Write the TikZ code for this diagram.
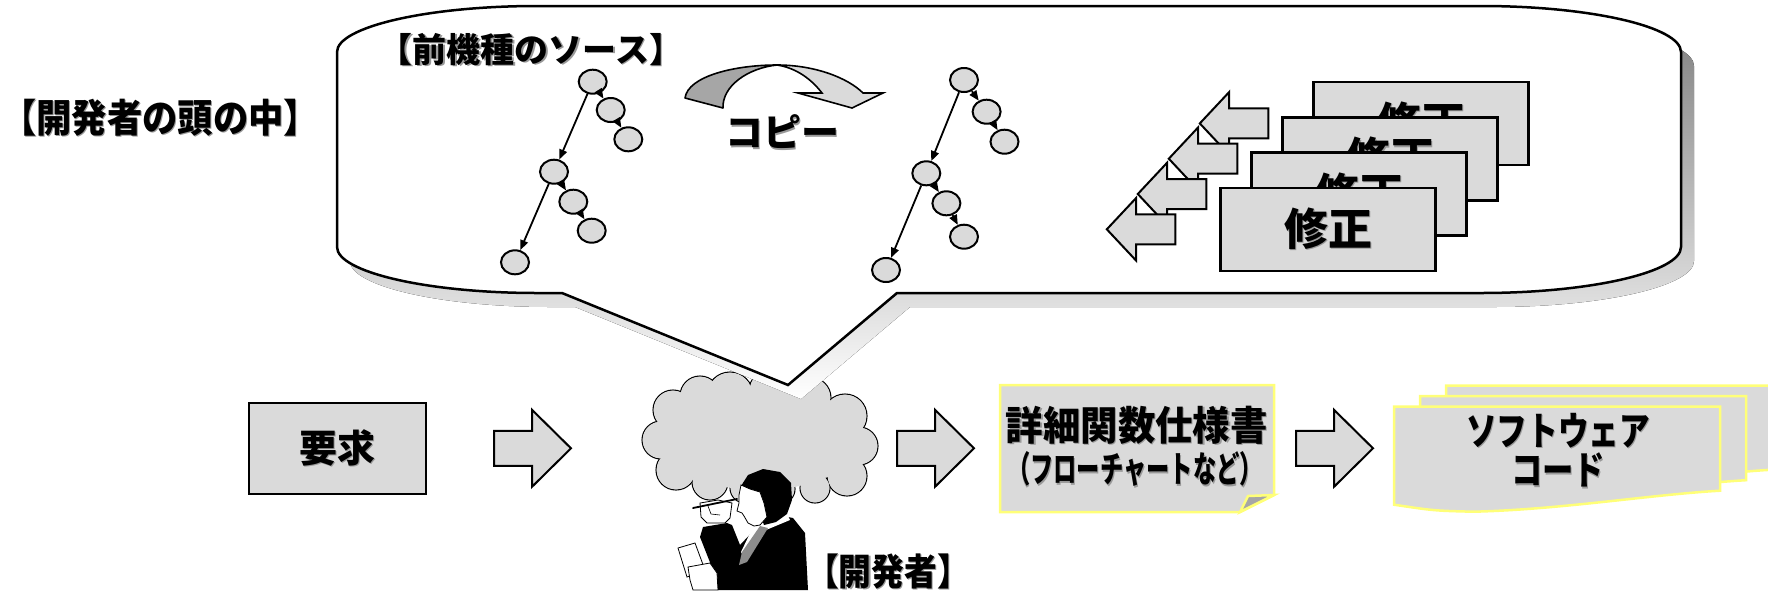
\documentclass[tikz,border=0pt]{standalone}
\usepackage{fontspec}
\usepackage{graphicx}
\usetikzlibrary{shapes.geometric,arrows.meta}
\newfontfamily\jp{Noto Sans CJK JP}

\definecolor{fillgray}{gray}{0.855}
\definecolor{shade}{gray}{0.8}
\definecolor{darkshade}{gray}{0.65}
\definecolor{edgeyellow}{RGB}{255,255,120}

% text with a soft drop shadow, set at advance width #1 and size #2
\newcommand\shtxt[1]{\makebox[0pt][l]{\kern1.4pt\raisebox{-1.4pt}{\color{black!40}#1}}#1}
\newcommand\jtxt[3]{{\fontsize{#2pt}{#2pt}\selectfont\resizebox{#1pt}{\height}{\shtxt{#3}}}}

\tikzset{
  jtext/.style={inner sep=0pt, font=\jp\bfseries},
  graybox/.style={draw=black, line width=2.5pt, fill=fillgray, inner sep=0pt},
  fixbox/.style={graybox, minimum width=215pt, minimum height=83pt, font=\jp\bfseries},
  treenode/.style={ellipse, draw=black, line width=2pt, fill=fillgray,
    minimum width=28pt, minimum height=24pt, inner sep=0pt},
  treeedge/.style={line width=1.8pt, -{Triangle[length=10pt,width=8pt]}},
  blockarrow/.style={draw=black, line width=2pt, fill=fillgray, line join=miter},
  yellowedge/.style={draw=edgeyellow, line width=2.5pt, fill=fillgray, line join=miter},
  figline/.style={draw=black, line width=0.8pt, fill=white},
  pics/rblock/.style={code={
    \draw[blockarrow] (0,0) -- (-39,-38.5) -- (-39,-17.5) -- (-77,-17.5)
      -- (-77,17.5) -- (-39,17.5) -- (-39,38.5) -- cycle;}},
  pics/lblock/.style={code={
    \draw[blockarrow] (0,0) -- (29.4,-31.4) -- (29.4,-15) -- (68.5,-15)
      -- (68.5,15) -- (29.4,15) -- (29.4,31.4) -- cycle;}},
  pics/docsheet/.style={code={
    \draw[yellowedge] (0,0) -- (326,0) -- (326,84)
      .. controls (256,88) and (166,103) .. (79,105)
      .. controls (40,104) .. (0,98) -- cycle;}},
}

% outline of the thought bubble
\def\bubblepath{(337,247) -- (337,52) .. controls (337,27) and (427,6) .. (537,6)
  -- (1481,6) .. controls (1591,6) and (1681,27) .. (1681,52) -- (1681,247)
  .. controls (1681,272) and (1591,293) .. (1481,293) -- (897,293) -- (788,385)
  -- (562,293) -- (537,293) .. controls (427,293) and (337,272) .. (337,247) -- cycle}

% puffs of the thought cloud: x/y/radius
\def\puffs{730/395/23, 771/391/22, 810/398/21, 845/416/22, 859/446/19, 847/476/20,
  815/488/15, 780/489/15, 745/488/15, 710/482/18, 676/470/20, 661/440/19,
  673/410/20, 700/396/20}

\begin{document}
\begin{tikzpicture}[x=1pt, y=-1pt]
\useasboundingbox (0,0) rectangle (1768,590);
\fill[white] (0,0) rectangle (1768,590);

% developer's thought cloud
\foreach \cx/\cy/\r in \puffs
  \filldraw[fill=fillgray, draw=black, line width=1.1pt] (\cx,\cy) circle[radius=\r];
\foreach \cx/\cy/\r in \puffs
  \fill[fillgray] (\cx,\cy) circle[radius=\r-0.7];
\node[ellipse, fill=fillgray, minimum width=200pt, minimum height=100pt, inner sep=0pt]
  (thought) at (760,440) {};

% thought bubble with its shadow
\begin{scope}[shift={(13,14)}]
  \fill[shade] \bubblepath;
\end{scope}
\draw[line width=2.5pt, fill=white, line join=miter] \bubblepath;

% bubble title
\node[jtext] (headlabel) at (160,118.3) {\jtxt{318}{39}{【開発者の頭の中】}};
\node[jtext] (srclabel) at (531,50) {\jtxt{304}{34}{【前機種のソース】}};

% source tree of the previous model
\node[treenode] (L1) at (592.7,81.7) {};
\node[treenode] (L2) at (610.7,110) {};
\node[treenode] (L3) at (628.3,139.3) {};
\node[treenode] (L4) at (554,171.7) {};
\node[treenode] (L5) at (573.3,201.7) {};
\node[treenode] (L6) at (591.7,230.7) {};
\node[treenode] (L7) at (515,262.3) {};
\draw[treeedge] (L1) -- (L2);
\draw[treeedge] (L2) -- (L3);
\draw[treeedge] (L1) -- (L4);
\draw[treeedge] (L4) -- (L5);
\draw[treeedge] (L5) -- (L6);
\draw[treeedge] (L4) -- (L7);

% copied tree
\node[treenode] (R1) at (964,80) {};
\node[treenode] (R2) at (986.6,111.7) {};
\node[treenode] (R3) at (1004.5,141.7) {};
\node[treenode] (R4) at (926.3,173.3) {};
\node[treenode] (R5) at (946.4,203.3) {};
\node[treenode] (R6) at (964,236.7) {};
\node[treenode] (R7) at (886,270) {};
\draw[treeedge] (R1) -- (R2);
\draw[treeedge] (R2) -- (R3);
\draw[treeedge] (R1) -- (R4);
\draw[treeedge] (R4) -- (R5);
\draw[treeedge] (R5) -- (R6);
\draw[treeedge] (R4) -- (R7);

% curved copy arrow
\filldraw[fill=darkshade, draw=black, line width=1.6pt, line join=round]
  (685,98) .. controls (688,76) and (735,65) .. (777,65)
  .. controls (748,68) and (722,86) .. (723,108) -- cycle;
\filldraw[fill=fillgray, draw=black, line width=1.6pt, line join=miter]
  (777,65) .. controls (815,65) and (848,78) .. (863,93) -- (883,93) -- (852,108)
  -- (798,93) -- (822,93) .. controls (812,80) and (797,68) .. (777,65) -- cycle;
\node[jtext] (copylabel) at (782,132.5) {\jtxt{114}{38}{コピー}};

% edits applied one after another
\pic at (1199.8,123.4) {lblock};
\pic at (1168.8,158.7) {lblock};
\pic at (1137.8,194) {lblock};
\pic at (1106.8,229.3) {lblock};
\node[fixbox] (fix1) at (1421,123.5) {\jtxt{88}{44}{修正}};
\node[fixbox] (fix2) at (1390,158.8) {\jtxt{88}{44}{修正}};
\node[fixbox] (fix3) at (1359,194.1) {\jtxt{88}{44}{修正}};
\node[fixbox] (fix4) at (1328,229.4) {\jtxt{88}{44}{修正}};

% requirement
\node[graybox, minimum width=177pt, minimum height=91pt, font=\jp\bfseries]
  (req) at (337.5,448.5) {\jtxt{76}{38}{要求}};
\pic at (571,448.3) {rblock};

% developer figure: suit, shirt, tie
\fill[black] (703,527) -- (727,523) -- (732,525) -- (740,545) -- (757,527)
  -- (788,517) -- (793,518) -- (805,533) -- (808,590) -- (718,590)
  -- (713,570) -- (700,537) -- cycle;
\fill[white] (753,527) -- (788,516) -- (790,520) -- (766,530) -- (745,560)
  -- (741,552) -- cycle;
\fill[black!45] (760,526) -- (768,528) -- (747,562) -- (739,565) -- (742,552) -- cycle;
% hair and face
\fill[black] (741,486) -- (748,475) -- (763,469) -- (780,472) -- (791,483)
  -- (792,500) -- (787,514) -- (776,522) -- (764,525) -- (757,505) -- cycle;
\filldraw[figline] (741,485) -- (750,489) -- (760,492) -- (764,503) -- (767,517)
  -- (760,525) -- (754,526) -- (748,523) -- (744,516) -- (742,513) -- (737,511)
  -- (739,503) -- (739,495) -- cycle;
% hand with pen, note paper and the other hand
\filldraw[figline] (700,503) -- (718,500) -- (732,503) -- (730,518) -- (725,523)
  -- (707,523) -- (701,517) -- cycle;
\draw[line width=0.6pt] (708,506) -- (711,514) -- (720,515);
\draw[line width=1.8pt, line cap=round] (693,508) -- (737,499);
\filldraw[figline] (678,548) -- (695,543) -- (705,570) -- (687,577) -- cycle;
\filldraw[figline] (688,567) -- (710,563) -- (717,573) -- (718,590) -- (693,590)
  -- (690,580) -- cycle;
\node[jtext] (devlabel) at (888,572) {\jtxt{164}{37}{【開発者】}};

\pic at (974,448.3) {rblock};

% detailed function specification
\draw[yellowedge] (1000,385) -- (1274,385) -- (1274,495) -- (1240,512)
  -- (1000,512) -- cycle;
\draw[yellowedge, fill=darkshade] (1248,496) -- (1274,495) -- (1240,512) -- cycle;
\node[jtext] (spec1) at (1136.7,426) {\jtxt{262}{40}{詳細関数仕様書}};
\node[jtext] (spec2) at (1135,470) {\jtxt{256}{36}{（フローチャートなど）}};

\pic at (1373,448.3) {rblock};

% software code documents
\pic at (1446,385.7) {docsheet};
\pic at (1420,396.2) {docsheet};
\pic at (1394,406.7) {docsheet};
\node[jtext] (code1) at (1558,431) {\jtxt{184}{39}{ソフトウェア}};
\node[jtext] (code2) at (1558,471) {\jtxt{94}{39}{コード}};
\end{tikzpicture}
\end{document}
